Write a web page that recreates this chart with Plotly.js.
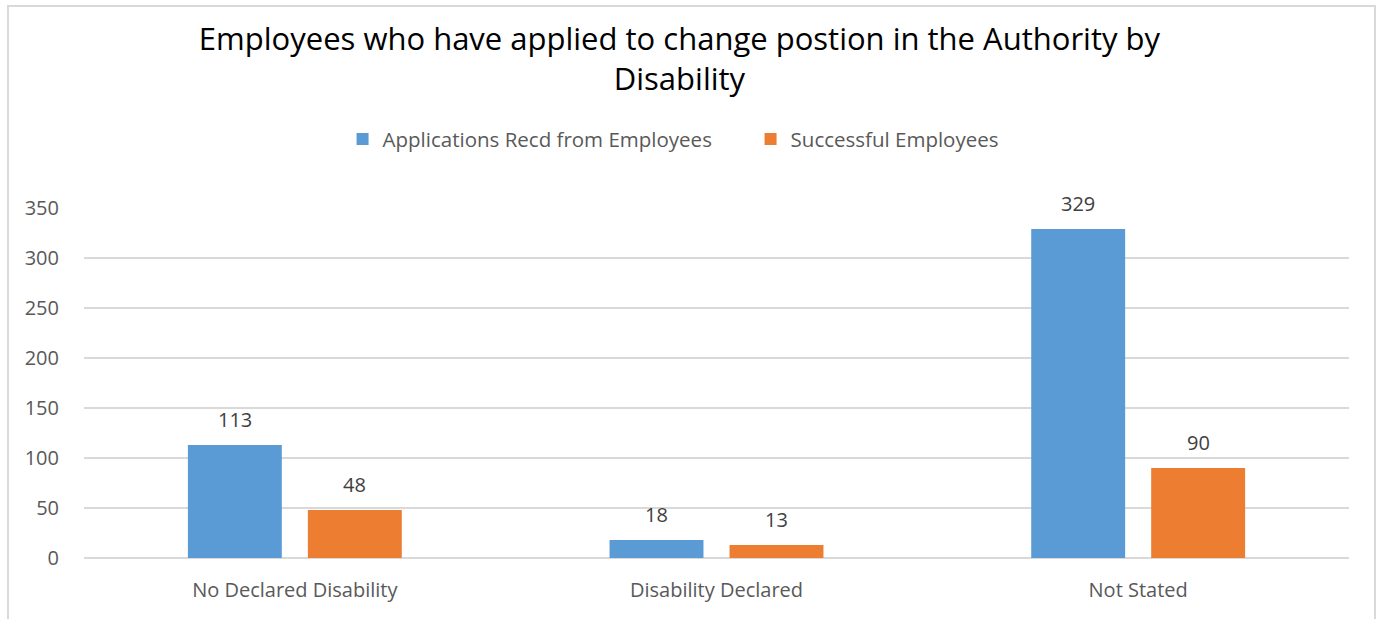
<!DOCTYPE html>
<html>
<head>
<meta charset="utf-8">
<script src="https://cdn.plot.ly/plotly-3.0.1.min.js"></script>
<style>
html,body{margin:0;padding:0;background:#fff;overflow:hidden;}
#wrap{position:relative;width:1381px;height:619px;}
#chart{position:absolute;left:0;top:0;width:1381px;height:619px;}
#frame{position:absolute;left:7px;top:5px;width:1365px;height:700px;border:2px solid #d9d9d9;pointer-events:none;}
</style>
</head>
<body>
<div id="wrap"><div id="chart"></div><div id="frame"></div></div>
<script>
const categories = ["No Declared Disability", "Disability Declared", "Not Stated"];
const applications = [113, 18, 329];
const successful = [48, 13, 90];
const seriesNames = ["Applications Recd from Employees", "Successful Employees"];
const yTicks = [0, 50, 100, 150, 200, 250, 300, 350];

const FONT = "Open Sans, Noto Sans, sans-serif";
const BARGAP = 0.431, BARGROUPGAP = 0.217;
const series = [applications, successful];
const colors = ["#5b9bd5", "#ed7d31"];

const traces = series.map((vals, k) => ({
  type:"bar", name:seriesNames[k], x:categories, y:vals,
  marker:{color:colors[k]}, hoverinfo:"none"
}));

// data labels placed above each bar, offset within the group
const slot = (1 - BARGAP) / series.length;
const annotations = [];
series.forEach((vals, k) => {
  const off = -((1 - BARGAP) / 2) + slot * (k + 0.5);
  vals.forEach((v, i) => {
    annotations.push({x:i + off, y:v, xref:"x", yref:"y", text:String(v), showarrow:false,
      xanchor:"center", yanchor:"bottom", yshift:10,
      font:{family:FONT,size:20,color:"#404040"}});
  });
});

const layout = {
  width:1381, height:619,
  margin:{l:84, r:32, t:208, b:61},
  paper_bgcolor:"rgba(0,0,0,0)", plot_bgcolor:"#fff",
  barmode:"group", bargap:BARGAP, bargroupgap:BARGROUPGAP,
  title:{text:"Employees who have applied to change postion in the Authority by<br>Disability",
         font:{family:FONT,size:31,color:"#000"}, x:0.492, xanchor:"center", y:0.92, yanchor:"top"},
  showlegend:true,
  legend:{orientation:"h", x:0.2044, xanchor:"left", y:1.197, yanchor:"middle",
          font:{family:FONT,size:20.5,color:"#595959"}, itemwidth:30, entrywidth:363, traceorder:"normal"},
  annotations:annotations,
  xaxis:{type:"category", tickfont:{family:FONT,size:20,color:"#595959"}, showline:false,
         ticks:"outside", ticklen:14, tickcolor:"rgba(0,0,0,0)", showgrid:false, zeroline:false},
  yaxis:{range:[0,350], tickvals:yTicks, ticktext:yTicks.map(String), showgrid:true, gridcolor:"#d9d9d9", gridwidth:1.5,
         zeroline:true, zerolinecolor:"#d9d9d9", zerolinewidth:1.5, showline:false, ticks:"outside", ticklen:20,
         tickcolor:"rgba(0,0,0,0)",
         tickfont:{family:FONT,size:20,color:"#595959"}, fixedrange:true}
};
Plotly.newPlot("chart", traces, layout, {staticPlot:true, displayModeBar:false});
</script>
</body>
</html>
